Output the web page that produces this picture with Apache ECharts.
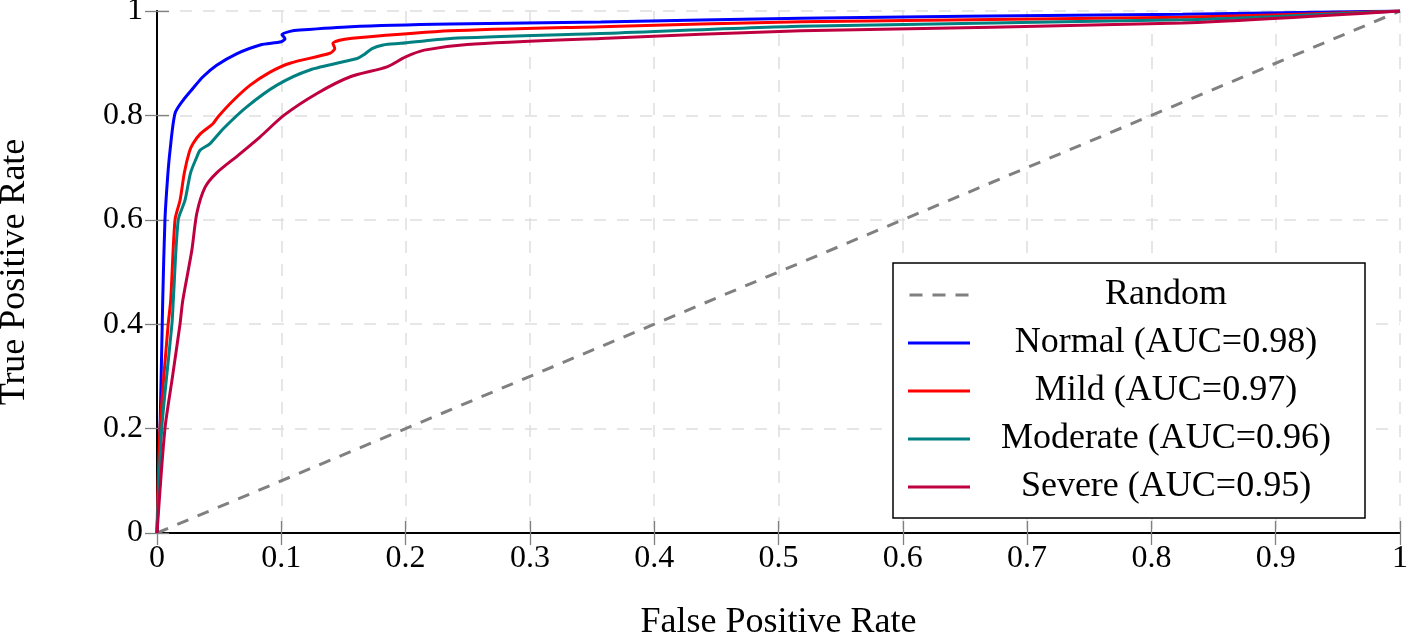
<!DOCTYPE html>
<html>
<head>
<meta charset="utf-8">
<script src="https://cdn.jsdelivr.net/npm/echarts@6/dist/echarts.min.js"></script>
<style>
  html, body { margin: 0; padding: 0; background: #fff; }
  #roc { width: 1408px; height: 634px; }
</style>
</head>
<body>
<div id="roc"></div>
<script>
// ROC curves, [false positive rate, true positive rate]
var randomLine = [[0, 0], [1, 1]];
var normal = [[0, 0], [0.002, 0.15], [0.0046, 0.445], [0.0064, 0.6], [0.0085, 0.68], [0.0105, 0.733], [0.0145, 0.804],
  [0.021, 0.829], [0.029, 0.852], [0.037, 0.874], [0.048, 0.896], [0.064, 0.918], [0.083, 0.935], [0.1, 0.941],
  [0.103, 0.947], [0.1005, 0.955], [0.107, 0.961], [0.115, 0.9635], [0.156, 0.97], [0.236, 0.975], [0.357, 0.979],
  [0.518, 0.986], [0.65, 0.99], [0.825, 0.994], [1, 1]];
var mild = [[0, 0], [0.0024, 0.2], [0.009, 0.4], [0.011, 0.445], [0.0145, 0.6], [0.0185, 0.637], [0.022, 0.69],
  [0.026, 0.73], [0.029, 0.746], [0.035, 0.765], [0.045, 0.784], [0.049, 0.797], [0.0615, 0.829], [0.075, 0.858],
  [0.091, 0.883], [0.107, 0.9], [0.139, 0.919], [0.143, 0.928], [0.1415, 0.938], [0.147, 0.944], [0.1555, 0.9475],
  [0.236, 0.962], [0.357, 0.97], [0.518, 0.9795], [0.825, 0.988], [1, 1]];
var moderate = [[0, 0], [0.0038, 0.2], [0.012, 0.4], [0.0131, 0.445], [0.0171, 0.6], [0.0225, 0.637], [0.027, 0.69],
  [0.032, 0.72], [0.0346, 0.733], [0.0427, 0.746], [0.0535, 0.775], [0.072, 0.816], [0.0965, 0.858], [0.123, 0.887],
  [0.161, 0.909], [0.166, 0.9155], [0.173, 0.928], [0.182, 0.935], [0.196, 0.938], [0.236, 0.9475], [0.357, 0.957],
  [0.518, 0.971], [0.825, 0.983], [1, 1]];
var severe = [[0, 0], [0.0064, 0.2], [0.0125, 0.3], [0.0185, 0.4], [0.0207, 0.445], [0.028, 0.541], [0.032, 0.612],
  [0.0386, 0.662], [0.048, 0.69], [0.0655, 0.724], [0.083, 0.759], [0.102, 0.8], [0.1287, 0.842],
  [0.1555, 0.874], [0.185, 0.893], [0.2, 0.912], [0.215, 0.925], [0.2495, 0.936], [0.357, 0.9475], [0.518, 0.962],
  [0.825, 0.977], [1, 1]];

var seriesNames = ['Random', 'Normal (AUC=0.98)', 'Mild (AUC=0.97)', 'Moderate (AUC=0.96)', 'Severe (AUC=0.95)'];
var seriesColors = ['#808080', '#0000ff', '#ff0000', '#008080', '#bf0040'];
var seriesData = [randomLine, normal, mild, moderate, severe];

var font = 'Liberation Serif';

function fmt(v) {
  return String(Math.round(v * 10) / 10);
}

var tickStyle = { show: true, inside: true, length: 12, lineStyle: { color: '#808080', width: 1.3 } };
var lineStyleAxis = { show: true, lineStyle: { color: '#000', width: 1.8 } };
var gridDash = { show: true, lineStyle: { color: '#dedede', width: 1.5, type: [12, 11] } };

// legend icons: dashed bar for Random, solid bar for the rest
var dashIcon = 'path://M0,0h13v3h-13z M23,0h13v3h-13z M46,0h13v3h-13z';
var legendData = seriesNames.map(function (n, i) {
  return { name: n, icon: i === 0 ? dashIcon : 'rect' };
});

var myChart = echarts.init(document.getElementById('roc'));
myChart.setOption({
  backgroundColor: '#fff',
  animation: false,
  textStyle: { fontFamily: font, color: '#000' },
  grid: { left: 157, top: 11, width: 1243, height: 522, containLabel: false, outerBoundsMode: 'none' },
  legend: {
    orient: 'vertical',
    left: 893,
    top: 263,
    padding: [14, 8, 13, 15],
    itemWidth: 62,
    itemHeight: 3,
    itemGap: 12,
    borderColor: '#000',
    borderWidth: 1.5,
    backgroundColor: '#fff',
    data: legendData,
    formatter: '{t|{name}}',
    textStyle: {
      rich: { t: { width: 382, align: 'center', fontSize: 36, lineHeight: 34, fontFamily: font, color: '#000' } }
    }
  },
  xAxis: [
    {
      type: 'value', min: 0, max: 1, interval: 0.1, position: 'bottom',
      name: 'False Positive Rate', nameLocation: 'middle', nameGap: 72,
      nameTextStyle: { fontSize: 36, fontFamily: font, color: '#000' },
      axisLine: lineStyleAxis, axisTick: tickStyle, splitLine: gridDash,
      axisLabel: { fontSize: 32, margin: 10, color: '#000', fontFamily: font, formatter: fmt }
    },
    {
      type: 'value', min: 0, max: 1, interval: 0.1, position: 'top',
      axisLine: lineStyleAxis, axisTick: tickStyle, splitLine: { show: false }, axisLabel: { show: false }
    }
  ],
  yAxis: [
    {
      type: 'value', min: 0, max: 1, interval: 0.2, position: 'left',
      name: 'True Positive Rate', nameLocation: 'middle', nameGap: 124, nameRotate: 90,
      nameTextStyle: { fontSize: 36, fontFamily: font, color: '#000' },
      axisLine: lineStyleAxis, axisTick: tickStyle, splitLine: gridDash,
      axisLabel: { fontSize: 32, margin: 14, color: '#000', fontFamily: font, formatter: fmt }
    },
    {
      type: 'value', min: 0, max: 1, interval: 0.2, position: 'right',
      axisLine: lineStyleAxis, axisTick: tickStyle, splitLine: { show: false }, axisLabel: { show: false }
    }
  ],
  series: seriesData.map(function (d, i) {
    return {
      name: seriesNames[i],
      type: 'line',
      data: d,
      showSymbol: false,
      symbol: 'none',
      smooth: i === 0 ? false : 0.25,
      color: seriesColors[i],
      lineStyle: { color: seriesColors[i], width: 3, type: i === 0 ? [12, 10] : 'solid' }
    };
  })
});
</script>
</body>
</html>
